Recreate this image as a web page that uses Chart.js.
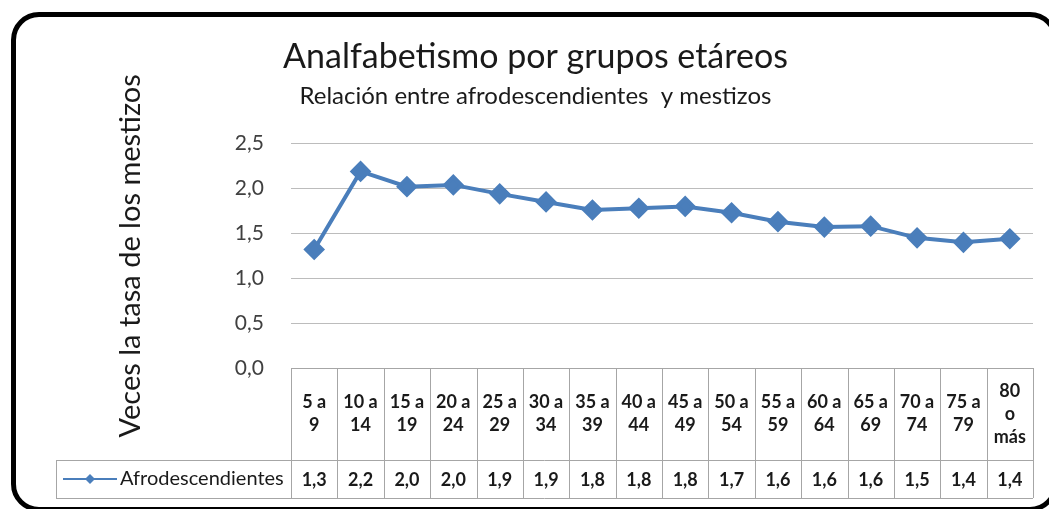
<!DOCTYPE html>
<html>
<head>
<meta charset="utf-8">
<title>Analfabetismo por grupos etáreos</title>
<script src="https://cdn.jsdelivr.net/npm/chart.js@4.4.1/dist/chart.umd.min.js"></script>
<style>
  html, body { margin: 0; padding: 0; background: #fff; overflow: hidden; }
  #frame {
    position: absolute; left: 11px; top: 12px; width: 1037px; height: 490px;
    border: 5px solid #000; border-radius: 28px;
  }
  #grafico { position: absolute; left: 0; top: 0; }
</style>
</head>
<body>
<div id="frame"></div>
<canvas id="grafico" width="1049" height="509"></canvas>
<script>
// grupos de edad (líneas tal como se ven en la tabla)
const ageGroups = [
    ['5 a', '9'], ['10 a', '14'], ['15 a', '19'], ['20 a', '24'],
    ['25 a', '29'], ['30 a', '34'], ['35 a', '39'], ['40 a', '44'],
    ['45 a', '49'], ['50 a', '54'], ['55 a', '59'], ['60 a', '64'],
    ['65 a', '69'], ['70 a', '74'], ['75 a', '79'], ['80', 'o', 'más']
];
// veces la tasa de los mestizos
const afroRatio = [1.32, 2.19, 2.02, 2.04, 1.94, 1.85, 1.76, 1.78, 1.80, 1.73, 1.63, 1.57, 1.58, 1.45, 1.40, 1.44];
// valores de la tabla de datos
const tableValues = ['1,3', '2,2', '2,0', '2,0', '1,9', '1,9', '1,8', '1,8', '1,8', '1,7', '1,6', '1,6', '1,6', '1,5', '1,4', '1,4'];
const seriesName = 'Afrodescendientes';

const FONT = 'Lato, "Open Sans", sans-serif';
const BLUE = '#4a7ebb';

// tabla de datos debajo del eje x
const dataTable = {
    id: 'dataTable',
    afterDraw(chart) {
        const { ctx, chartArea: { left, right, bottom }, scales: { x } } = chart;
        const cellW = (right - left) / ageGroups.length;
        const headBottom = bottom + 92;
        const rowBottom = headBottom + 38;
        const legendLeft = 56;
        const px = v => Math.round(v) + 0.5;

        ctx.save();
        ctx.strokeStyle = '#a6a6a6';
        ctx.lineWidth = 1;
        ctx.beginPath();
        ctx.moveTo(left, px(bottom)); ctx.lineTo(right, px(bottom));
        ctx.moveTo(legendLeft, px(headBottom)); ctx.lineTo(right, px(headBottom));
        ctx.moveTo(legendLeft, px(rowBottom)); ctx.lineTo(right, px(rowBottom));
        ctx.moveTo(px(legendLeft), headBottom); ctx.lineTo(px(legendLeft), rowBottom);
        for (let i = 0; i <= ageGroups.length; i++) {
            const xb = i < ageGroups.length ? x.getPixelForValue(i) - cellW / 2 : right;
            ctx.moveTo(px(xb), bottom); ctx.lineTo(px(xb), rowBottom);
        }
        ctx.stroke();

        ctx.fillStyle = '#1a1a1a';
        ctx.textAlign = 'center';
        ctx.textBaseline = 'middle';
        ctx.font = 'bold 18px ' + FONT;
        const lineH = 23;
        ageGroups.forEach((lines, i) => {
            const cx = x.getPixelForValue(i);
            const y0 = (bottom + headBottom) / 2 - (lines.length - 1) * lineH / 2;
            lines.forEach((t, j) => ctx.fillText(t, cx, y0 + j * lineH));
            ctx.fillText(tableValues[i], cx, (headBottom + rowBottom) / 2 + 1);
        });

        // clave de la serie
        const ky = (headBottom + rowBottom) / 2;
        ctx.strokeStyle = BLUE;
        ctx.lineWidth = 2;
        ctx.beginPath();
        ctx.moveTo(63, ky); ctx.lineTo(117, ky);
        ctx.stroke();
        ctx.fillStyle = BLUE;
        ctx.beginPath();
        ctx.moveTo(90, ky - 5); ctx.lineTo(95, ky); ctx.lineTo(90, ky + 5); ctx.lineTo(85, ky);
        ctx.closePath();
        ctx.fill();
        ctx.fillStyle = '#1a1a1a';
        ctx.textAlign = 'left';
        ctx.font = '20px ' + FONT;
        ctx.fillText(seriesName, 120, ky);
        ctx.restore();
    }
};

new Chart(document.getElementById('grafico').getContext('2d'), {
    type: 'line',
    data: {
        labels: ageGroups.map(g => g.join(' ')),
        datasets: [{
            label: seriesName,
            data: afroRatio,
            borderColor: BLUE,
            backgroundColor: BLUE,
            borderWidth: 4,
            pointStyle: 'rectRot',
            pointRadius: 8,
            pointHoverRadius: 8,
            tension: 0
        }]
    },
    options: {
        responsive: false,
        animation: false,
        layout: { padding: { top: 13, left: 38, right: 16, bottom: 141 } },
        plugins: {
            legend: { display: false },
            tooltip: { enabled: false },
            title: {
                display: true,
                text: 'Analfabetismo por grupos etáreos',
                color: '#1a1a1a',
                font: { family: FONT, size: 34, weight: 'normal', lineHeight: 1.2 },
                padding: { top: 24, bottom: 0 }
            },
            subtitle: {
                display: true,
                text: 'Relación entre afrodescendientes  y mestizos',
                color: '#1a1a1a',
                font: { family: FONT, size: 24, weight: 'normal', lineHeight: 1.2 },
                padding: { top: 4, bottom: 33 }
            }
        },
        scales: {
            x: { display: false, offset: true },
            y: {
                min: 0,
                max: 2.5,
                ticks: {
                    stepSize: 0.5,
                    padding: 27,
                    color: '#404040',
                    font: { family: FONT, size: 21 },
                    callback: v => v.toFixed(1).replace('.', ',')
                },
                grid: { color: '#bcbcbc', drawTicks: false },
                border: { display: false },
                title: {
                    display: true,
                    text: 'Veces la tasa de los mestizos',
                    color: '#1a1a1a',
                    font: { family: FONT, size: 29, lineHeight: 1.2 },
                    padding: { top: 75, bottom: 0 }
                },
                afterFit: scale => { scale.width = 253; }
            }
        }
    },
    plugins: [dataTable]
});
</script>
</body>
</html>
